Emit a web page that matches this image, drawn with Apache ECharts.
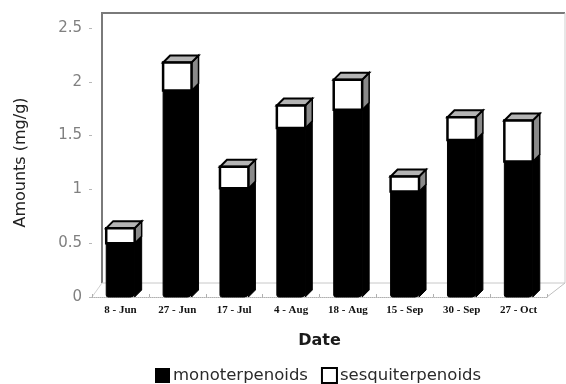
<!DOCTYPE html>
<html>
<head>
<meta charset="utf-8">
<script src="https://cdn.jsdelivr.net/npm/echarts@6/dist/echarts.min.js"></script>
<style>
  html, body { margin: 0; padding: 0; background: #fff; }
  #chart { width: 566px; height: 384px; }
</style>
</head>
<body>
<div id="chart"></div>
<script>
// Sampling dates and terpenoid amounts (mg/g)
const dates = ['8 - Jun', '27 - Jun', '17 - Jul', '4 - Aug', '18 - Aug', '15 - Sep', '30 - Sep', '27 - Oct'];
const monoterpenoids = [0.50, 1.92, 1.01, 1.57, 1.74, 0.98, 1.46, 1.26];
const sesquiterpenoids = [0.14, 0.26, 0.20, 0.21, 0.28, 0.14, 0.21, 0.38];
const yTicks = [0, 0.5, 1, 1.5, 2, 2.5];

// layout
const GRID = { left: 92, top: 28, width: 455, height: 269 };
const DEPTH = 7;          // pseudo-3D depth of each column
const BAR_RATIO = 0.5;    // column width as a share of the category band
const WALL = { left: 102, top: 13, right: 565, bottom: 283 };

const chart = echarts.init(document.getElementById('chart'));

function columnBox(api, value) {
  const i = api.value(0);
  const base = api.coord([i, 0]);
  const w = api.size([1, 0])[0] * BAR_RATIO;
  return { x: base[0] - w / 2, w: w, y0: base[1], yv: api.coord([i, value])[1] };
}

function sideFace(x, w, yTop, yBot) {
  return [[x + w, yTop], [x + w + DEPTH, yTop - DEPTH], [x + w + DEPTH, yBot - DEPTH], [x + w, yBot]];
}

function renderMono(params, api) {
  const b = columnBox(api, api.value(1));
  return {
    type: 'group',
    children: [
      { type: 'polygon', shape: { points: sideFace(b.x, b.w, b.yv, b.y0) }, style: { fill: '#000', stroke: '#000', lineWidth: 1 } },
      { type: 'rect', shape: { x: b.x, y: b.yv, width: b.w, height: b.y0 - b.yv, r: [0, 0, 4, 2] }, style: { fill: '#000', stroke: '#000', lineWidth: 1 } }
    ]
  };
}

function renderSesqui(params, api) {
  const m = api.value(1), s = api.value(2);
  const i = api.value(0);
  const b = columnBox(api, m + s);
  const yMid = api.coord([i, m])[1];
  const x = b.x, w = b.w, yTop = b.yv;
  return {
    type: 'group',
    children: [
      { type: 'polygon', shape: { points: sideFace(x, w, yTop, yMid) }, style: { fill: '#8a8a8a', stroke: '#000', lineWidth: 1.5 } },
      { type: 'polygon', shape: { points: [[x, yTop], [x + w, yTop], [x + w + DEPTH, yTop - DEPTH], [x + DEPTH, yTop - DEPTH]] }, style: { fill: '#b4b4b4', stroke: '#000', lineWidth: 2 } },
      { type: 'rect', shape: { x: x, y: yTop, width: w, height: yMid - yTop }, style: { fill: '#fff', stroke: '#000', lineWidth: 2.5 } }
    ]
  };
}

const option = {
  backgroundColor: '#fff',
  animation: false,
  grid: { left: GRID.left, top: GRID.top, width: GRID.width, height: GRID.height },
  graphic: [
    // back wall and floor outline
    { type: 'polyline', silent: true, z: 0, shape: { points: [[WALL.left, WALL.bottom], [WALL.left, WALL.top], [WALL.right, WALL.top]] }, style: { stroke: '#7a7a7a', lineWidth: 2, fill: null } },
    { type: 'line', silent: true, z: 0, shape: { x1: WALL.right, y1: WALL.top, x2: WALL.right, y2: WALL.bottom }, style: { stroke: '#cfcfcf', lineWidth: 1 } },
    { type: 'line', silent: true, z: 0, shape: { x1: WALL.left, y1: WALL.bottom, x2: WALL.right, y2: WALL.bottom }, style: { stroke: '#c8c8c8', lineWidth: 1 } },
    { type: 'line', silent: true, z: 0, shape: { x1: GRID.left, y1: GRID.top + GRID.height, x2: WALL.left, y2: WALL.bottom }, style: { stroke: '#d0d0d0', lineWidth: 1 } },
    { type: 'line', silent: true, z: 0, shape: { x1: GRID.left + GRID.width, y1: GRID.top + GRID.height, x2: WALL.right, y2: WALL.bottom }, style: { stroke: '#c0c0c0', lineWidth: 1 } }
  ],
  legend: {
    left: 150,
    top: 362,
    itemWidth: 15,
    itemHeight: 15,
    itemGap: 13,
    selectedMode: false,
    textStyle: { fontFamily: 'DejaVu Sans', fontSize: 16.5, color: '#2a2a2a', padding: [0, 0, 0, -2] },
    data: [
      { name: 'monoterpenoids', icon: 'rect', itemStyle: { color: '#000', borderColor: '#000', borderWidth: 0 } },
      { name: 'sesquiterpenoids', icon: 'rect', itemStyle: { color: '#fff', borderColor: '#000', borderWidth: 2 } }
    ]
  },
  xAxis: {
    type: 'category',
    data: dates,
    name: 'Date',
    nameLocation: 'middle',
    nameGap: 36,
    nameTextStyle: { fontFamily: 'DejaVu Sans', fontWeight: 'bold', fontSize: 16, color: '#1a1a1a' },
    axisLine: { show: true, lineStyle: { color: '#b0b0b0', type: 'dotted', width: 1 } },
    axisTick: { show: true, inside: true, length: 3, lineStyle: { color: '#b0b0b0' } },
    axisLabel: { margin: 8, fontFamily: 'Liberation Serif', fontWeight: 'bold', fontSize: 11, color: '#111' },
    splitLine: { show: false }
  },
  yAxis: {
    type: 'value',
    min: yTicks[0],
    max: yTicks[yTicks.length - 1],
    interval: 0.5,
    name: 'Amounts (mg/g)',
    nameLocation: 'middle',
    nameGap: 63,
    nameRotate: 90,
    nameTextStyle: { fontFamily: 'DejaVu Sans', fontSize: 16, color: '#222' },
    axisLine: { show: false },
    axisTick: { show: true, length: 3, lineStyle: { color: '#b8b8b8' } },
    axisLabel: { margin: 10, fontFamily: 'DejaVu Sans', fontSize: 15, color: '#808080' },
    splitLine: { show: false }
  },
  series: [
    {
      name: 'monoterpenoids',
      type: 'custom',
      renderItem: renderMono,
      itemStyle: { color: '#000' },
      encode: { x: 0, y: 1 },
      data: dates.map((d, i) => [i, monoterpenoids[i]]),
      z: 3
    },
    {
      name: 'sesquiterpenoids',
      type: 'custom',
      renderItem: renderSesqui,
      itemStyle: { color: '#fff' },
      encode: { x: 0, y: 1 },
      data: dates.map((d, i) => [i, monoterpenoids[i], sesquiterpenoids[i]]),
      z: 4
    }
  ]
};

chart.setOption(option);
</script>
</body>
</html>
